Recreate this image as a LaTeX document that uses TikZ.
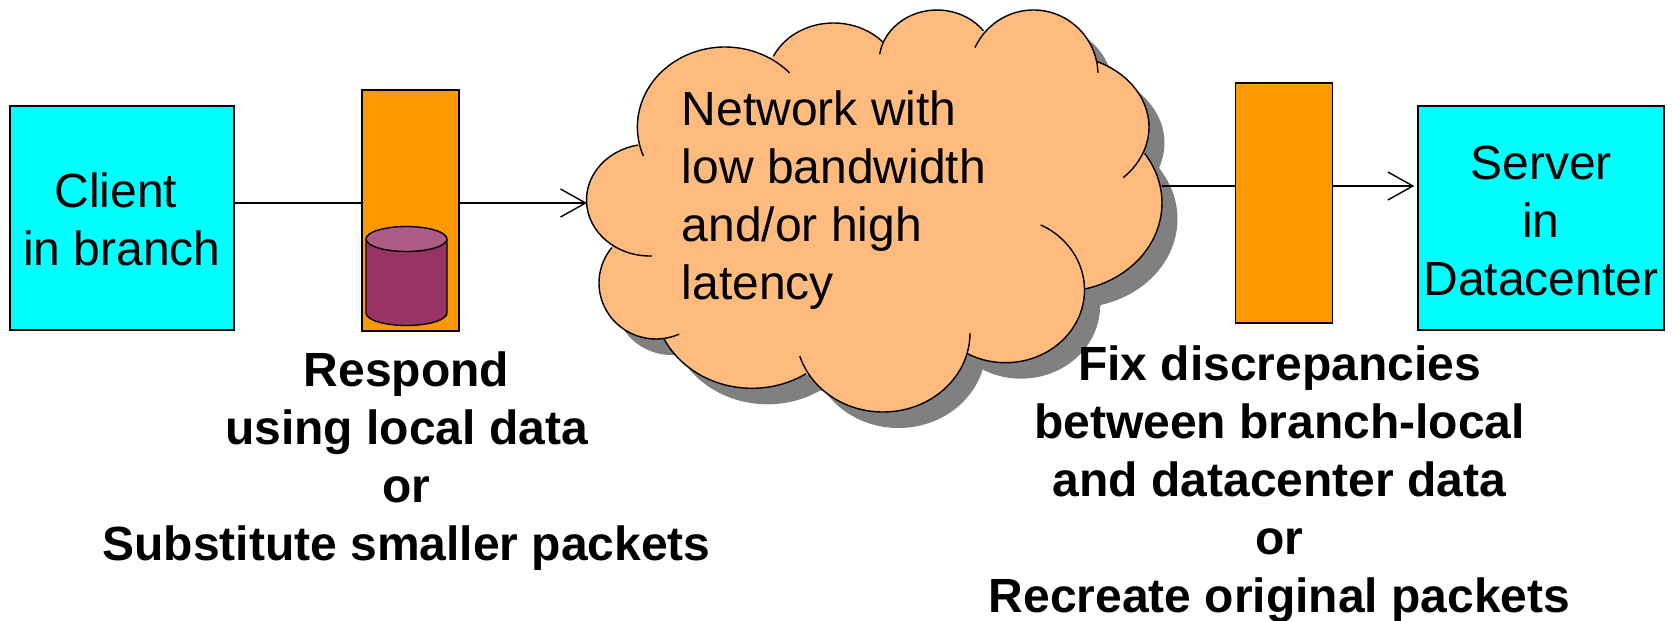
\documentclass[tikz,border=0pt]{standalone}
\usepackage{fontspec}
\setmainfont{Liberation Sans}
\usetikzlibrary{arrows.meta}
\definecolor{clientcyan}{HTML}{00FFFF}
\definecolor{boxorange}{HTML}{FF9900}
\definecolor{cloudorange}{HTML}{FFBB7D}
\definecolor{cloudshadow}{HTML}{808080}
\definecolor{dbbody}{HTML}{993366}
\definecolor{dbtop}{HTML}{AD5A85}
\tikzset{
	>={Straight Barb[length=25pt,width=28pt]},
	every path/.style={line width=1.4pt},
	endbox/.style={draw,fill=clientcyan,minimum width=224pt,minimum height=224pt,inner sep=0pt,align=center},
	midbox/.style={draw,fill=boxorange,minimum width=97pt,inner sep=0pt},
	plaintext/.style={inner sep=0pt,font=\fontsize{48}{58}\selectfont},
	boldtext/.style={plaintext,align=center,font=\fontsize{48}{58}\selectfont\bfseries}
}
% one lobe: centre x, centre y, x radius, y radius, first angle, last angle
\newcommand{\cloudlobe}[6]{({#1+#3*cos(#5)},{#2+#4*sin(#5)}) arc [start angle=#5,end angle=#6,x radius=#3,y radius=#4]}
% #1 closes each lobe for the filled versions
\newcommand{\cloudlobes}[1]{
	\cloudlobe{725}{127}{87.6}{80}{158.8}{317.4} #1
	\cloudlobe{833.5}{80}{66}{57}{204.6}{318} #1
	\cloudlobe{937}{62}{58}{52}{188.6}{323.3} #1
	\cloudlobe{1033.5}{75}{64.5}{65}{204.9}{358} #1
	\cloudlobe{1060}{127}{89}{72}{-65.6}{44.7} #1
	\cloudlobe{1060}{203}{102}{88.7}{-34}{75.5} #1
	\cloudlobe{1005.5}{290}{79}{72.7}{-63.5}{119} #1
	\cloudlobe{883}{333}{87}{79}{0}{163} #1
	\cloudlobe{752}{300}{98}{88.3}{56.5}{153.9} #1
	\cloudlobe{656}{283}{57}{56}{66}{219.4} #1
	\cloudlobe{650}{200}{63.5}{56}{88}{258.9} #1
}
\newcommand{\cloudcore}{(637.6,144) -- (773,56) -- (884.5,40.7) -- (982.4,31.7) -- (1096.7,61.7) -- (1144.5,153.3) -- (1085.7,289.3) -- (968.2,351.7) -- (807,375) -- (664,339) -- (613,248.3) -- cycle}
\begin{document}
\begin{tikzpicture}[x=1pt,y=-1pt]
	\useasboundingbox (0,0) rectangle (1673,621);

	% cloud with its shadow
	\begin{scope}[shift={(15.5pt,-16pt)}]
		\fill [cloudshadow] \cloudlobes{-- cycle} \cloudcore;
	\end{scope}
	\fill [cloudorange] \cloudlobes{-- cycle} \cloudcore;
	\draw \cloudlobes{};
	\node [plaintext,align=left,anchor=west] (cloudtext) at (681,200) {Network with\\low bandwidth\\and/or high\\latency};
	\coordinate (cloudin) at (587,203);
	\coordinate (cloudout) at (1162,186);

	% client side
	\node [endbox] (clientbox) at (122,218) {};
	\node [plaintext,align=center] (clienttext) at (122,219) {Client\kern12pt\\in branch};
	\node [midbox,minimum height=241pt] (branchbox) at (410.5,210.5) {};
	% database
	\draw [fill=dbbody] (366,239) -- (366,313) arc [start angle=180,end angle=0,x radius=40.5,y radius=12.5] -- (447,239);
	\draw [fill=dbtop] (406.5,239) ellipse [x radius=40.5,y radius=12.5];
	\draw (clientbox.east |- cloudin) -- (branchbox.west |- cloudin);
	\draw [->] (branchbox.east |- cloudin) -- (cloudin);
	\node [boldtext] (branchtext) at (406.5,461) {Respond\\using local data\\or\\Substitute smaller packets};

	% datacenter side
	\node [midbox,minimum height=240pt] (dcbox) at (1284,203) {};
	\node [endbox,minimum width=246pt] (serverbox) at (1541,218) {};
	\node [plaintext,align=center] (servertext) at (1541,221) {Server\\in\\Datacenter};
	\draw (cloudout) -- (dcbox.west |- cloudout);
	\draw [->,shorten >=3pt] (dcbox.east |- cloudout) -- (serverbox.west |- cloudout);
	\node [boldtext] (dctext) at (1279.5,484) {Fix discrepancies\\between branch-local\\and datacenter data\\or\\Recreate original packets};
\end{tikzpicture}
\end{document}
